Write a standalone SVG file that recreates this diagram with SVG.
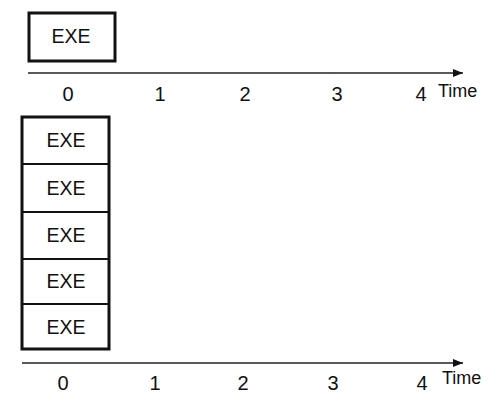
<svg xmlns="http://www.w3.org/2000/svg" width="500" height="401" viewBox="0 0 500 401">
<defs>
<style>
.box{fill:#fff;stroke:#111;stroke-width:3}
.div{stroke:#111;stroke-width:2.2}
.axis{stroke:#222;stroke-width:1.3;fill:none}
.lbl{font-family:"Liberation Sans",Arial,sans-serif;font-size:19.5px;fill:#111;text-anchor:middle}
.num{font-family:"Liberation Sans",Arial,sans-serif;font-size:20px;fill:#111;text-anchor:middle}
.time{font-family:"Liberation Sans",Arial,sans-serif;font-size:18px;fill:#111}
</style>
<marker id="arr" viewBox="0 0 10 8" refX="10" refY="4" markerWidth="11" markerHeight="8" markerUnits="userSpaceOnUse" orient="auto">
<path d="M0,0 L10,4 L0,8 Z" fill="#111"/>
</marker>
</defs>
<rect width="500" height="401" fill="#fff"/>
<g id="exe-single">
<rect class="box" x="29" y="13" width="86" height="48"/>
<text class="lbl" x="71" y="43">EXE</text>
</g>
<g id="exe-stack">
<rect class="box" x="22" y="117" width="87" height="232"/>
<line class="div" x1="22" y1="164" x2="109" y2="164"/>
<line class="div" x1="22" y1="212" x2="109" y2="212"/>
<line class="div" x1="22" y1="259" x2="109" y2="259"/>
<line class="div" x1="22" y1="304" x2="109" y2="304"/>
<text class="lbl" x="66" y="147">EXE</text>
<text class="lbl" x="66" y="195">EXE</text>
<text class="lbl" x="66" y="242">EXE</text>
<text class="lbl" x="66" y="288">EXE</text>
<text class="lbl" x="66" y="334">EXE</text>
</g>
<g id="connectors">
<line class="axis" x1="28" y1="73" x2="463" y2="73" marker-end="url(#arr)"/>
<line class="axis" x1="22" y1="363" x2="463" y2="363" marker-end="url(#arr)"/>
</g>
<g id="axis-top-labels">
<text class="num" x="68" y="101">0</text>
<text class="num" x="160" y="101">1</text>
<text class="num" x="245" y="101">2</text>
<text class="num" x="337" y="101">3</text>
<text class="num" x="421" y="101">4</text>
<text class="time" x="438" y="97">Time</text>
</g>
<g id="axis-bottom-labels">
<text class="num" x="63" y="390">0</text>
<text class="num" x="155" y="390">1</text>
<text class="num" x="243" y="390">2</text>
<text class="num" x="333" y="390">3</text>
<text class="num" x="422" y="390">4</text>
<text class="time" x="442" y="384">Time</text>
</g>
</svg>
